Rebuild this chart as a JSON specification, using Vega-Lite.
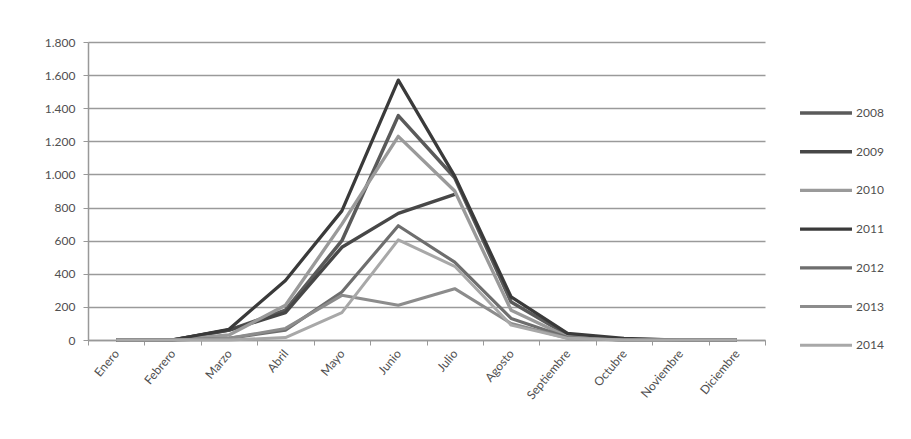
{
  "$schema": "https://vega.github.io/schema/vega-lite/v6.json",
  "width": 677,
  "height": 298,
  "autosize": "none",
  "padding": {"left": 88, "top": 42, "right": 146, "bottom": 99},
  "background": "white",
  "config": {
    "locale": {"number": {"decimal": ",", "thousands": ".", "grouping": [3], "currency": ["", " €"]}},
    "view": {"stroke": null},
    "font": "Lato"
  },
  "data": {
    "values": [
      {"mes": "Enero", "año": "2008", "valor": 0},
      {"mes": "Febrero", "año": "2008", "valor": 0},
      {"mes": "Marzo", "año": "2008", "valor": 60},
      {"mes": "Abril", "año": "2008", "valor": 180},
      {"mes": "Mayo", "año": "2008", "valor": 600},
      {"mes": "Junio", "año": "2008", "valor": 1355},
      {"mes": "Julio", "año": "2008", "valor": 980},
      {"mes": "Agosto", "año": "2008", "valor": 230},
      {"mes": "Septiembre", "año": "2008", "valor": 30},
      {"mes": "Octubre", "año": "2008", "valor": 5},
      {"mes": "Noviembre", "año": "2008", "valor": 0},
      {"mes": "Diciembre", "año": "2008", "valor": 0},

      {"mes": "Enero", "año": "2009", "valor": 0},
      {"mes": "Febrero", "año": "2009", "valor": 0},
      {"mes": "Marzo", "año": "2009", "valor": 60},
      {"mes": "Abril", "año": "2009", "valor": 165},
      {"mes": "Mayo", "año": "2009", "valor": 560},
      {"mes": "Junio", "año": "2009", "valor": 765},
      {"mes": "Julio", "año": "2009", "valor": 880},

      {"mes": "Enero", "año": "2010", "valor": 0},
      {"mes": "Febrero", "año": "2010", "valor": 0},
      {"mes": "Marzo", "año": "2010", "valor": 30},
      {"mes": "Abril", "año": "2010", "valor": 210},
      {"mes": "Mayo", "año": "2010", "valor": 700},
      {"mes": "Junio", "año": "2010", "valor": 1230},
      {"mes": "Julio", "año": "2010", "valor": 900},
      {"mes": "Agosto", "año": "2010", "valor": 180},
      {"mes": "Septiembre", "año": "2010", "valor": 20},
      {"mes": "Octubre", "año": "2010", "valor": 0},
      {"mes": "Noviembre", "año": "2010", "valor": 0},
      {"mes": "Diciembre", "año": "2010", "valor": 0},

      {"mes": "Enero", "año": "2011", "valor": 0},
      {"mes": "Febrero", "año": "2011", "valor": 0},
      {"mes": "Marzo", "año": "2011", "valor": 65},
      {"mes": "Abril", "año": "2011", "valor": 360},
      {"mes": "Mayo", "año": "2011", "valor": 780},
      {"mes": "Junio", "año": "2011", "valor": 1570},
      {"mes": "Julio", "año": "2011", "valor": 990},
      {"mes": "Agosto", "año": "2011", "valor": 260},
      {"mes": "Septiembre", "año": "2011", "valor": 40},
      {"mes": "Octubre", "año": "2011", "valor": 10},
      {"mes": "Noviembre", "año": "2011", "valor": 0},
      {"mes": "Diciembre", "año": "2011", "valor": 0},

      {"mes": "Enero", "año": "2012", "valor": 0},
      {"mes": "Febrero", "año": "2012", "valor": 0},
      {"mes": "Marzo", "año": "2012", "valor": 10},
      {"mes": "Abril", "año": "2012", "valor": 60},
      {"mes": "Mayo", "año": "2012", "valor": 290},
      {"mes": "Junio", "año": "2012", "valor": 690},
      {"mes": "Julio", "año": "2012", "valor": 470},
      {"mes": "Agosto", "año": "2012", "valor": 130},
      {"mes": "Septiembre", "año": "2012", "valor": 15},
      {"mes": "Octubre", "año": "2012", "valor": 0},
      {"mes": "Noviembre", "año": "2012", "valor": 0},
      {"mes": "Diciembre", "año": "2012", "valor": 0},

      {"mes": "Enero", "año": "2013", "valor": 0},
      {"mes": "Febrero", "año": "2013", "valor": 0},
      {"mes": "Marzo", "año": "2013", "valor": 10},
      {"mes": "Abril", "año": "2013", "valor": 70},
      {"mes": "Mayo", "año": "2013", "valor": 270},
      {"mes": "Junio", "año": "2013", "valor": 210},
      {"mes": "Julio", "año": "2013", "valor": 310},
      {"mes": "Agosto", "año": "2013", "valor": 100},
      {"mes": "Septiembre", "año": "2013", "valor": 10},
      {"mes": "Octubre", "año": "2013", "valor": 0},
      {"mes": "Noviembre", "año": "2013", "valor": 0},
      {"mes": "Diciembre", "año": "2013", "valor": 0},

      {"mes": "Enero", "año": "2014", "valor": 0},
      {"mes": "Febrero", "año": "2014", "valor": 0},
      {"mes": "Marzo", "año": "2014", "valor": 0},
      {"mes": "Abril", "año": "2014", "valor": 15},
      {"mes": "Mayo", "año": "2014", "valor": 165},
      {"mes": "Junio", "año": "2014", "valor": 605},
      {"mes": "Julio", "año": "2014", "valor": 445},
      {"mes": "Agosto", "año": "2014", "valor": 90},
      {"mes": "Septiembre", "año": "2014", "valor": 10},
      {"mes": "Octubre", "año": "2014", "valor": 0},
      {"mes": "Noviembre", "año": "2014", "valor": 0},
      {"mes": "Diciembre", "año": "2014", "valor": 0}
    ]
  },
  "mark": {"type": "line", "strokeJoin": "round"},
  "encoding": {
    "x": {
      "field": "mes",
      "type": "ordinal",
      "bandPosition": 0.5,
      "sort": ["Enero", "Febrero", "Marzo", "Abril", "Mayo", "Junio", "Julio", "Agosto", "Septiembre", "Octubre", "Noviembre", "Diciembre"],
      "scale": {"type": "band", "paddingInner": 0, "paddingOuter": 0},
      "axis": {
        "title": null,
        "labelAngle": -50,
        "labelAlign": "right",
        "labelBaseline": "middle",
        "labelFontSize": 12,
        "labelColor": "#505050",
        "labelPadding": 6,
        "tickBand": "extent",
        "tickColor": "#999999",
        "tickSize": 5,
        "domainColor": "#999999",
        "domainWidth": 1.5
      }
    },
    "y": {
      "field": "valor",
      "type": "quantitative",
      "scale": {"domain": [0, 1800], "nice": false},
      "axis": {
        "title": null,
        "values": [0, 200, 400, 600, 800, 1000, 1200, 1400, 1600, 1800],
        "format": ",d",
        "labelFontSize": 12,
        "labelColor": "#505050",
        "labelPadding": 8,
        "tickColor": "#999999",
        "tickSize": 5,
        "domainColor": "#999999",
        "domainWidth": 1.5,
        "gridColor": "#9a9a9a",
        "gridWidth": 1.5
      }
    },
    "color": {
      "field": "año",
      "type": "nominal",
      "scale": {
        "domain": ["2008", "2009", "2010", "2011", "2012", "2013", "2014"],
        "range": ["#5a5a5a", "#474747", "#9a9a9a", "#3a3a3a", "#6e6e6e", "#8c8c8c", "#a8a8a8"]
      },
      "legend": {
        "title": null,
        "orient": "none",
        "legendX": 710,
        "legendY": 65,
        "symbolType": "stroke",
        "symbolSize": 2700,
        "clipHeight": 12,
        "rowPadding": 26.7,
        "labelFontSize": 12,
        "labelColor": "#505050",
        "labelOffset": 2,
        "padding": 0
      }
    },
    "strokeWidth": {
      "field": "año",
      "type": "nominal",
      "scale": {
        "domain": ["2008", "2009", "2010", "2011", "2012", "2013", "2014"],
        "range": [3.5, 3, 3, 4, 3.5, 3, 2]
      },
      "legend": null
    }
  }
}
